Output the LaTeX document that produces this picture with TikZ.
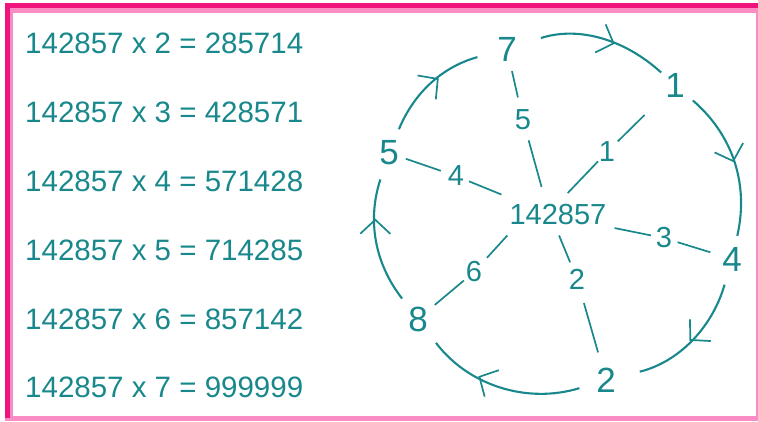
\documentclass[tikz,border=0pt]{standalone}
\usepackage{fontspec}
\setmainfont{Liberation Sans}
\usetikzlibrary{arrows.meta,decorations.markings}
\definecolor{teal1}{RGB}{25,136,140}
\definecolor{pinkD}{RGB}{240,20,125}
\definecolor{pinkL}{RGB}{248,140,195}
\tikzset{
 eqtext/.style={anchor=west,inner sep=0pt,text=teal1,font=\fontsize{29.5}{34}\selectfont},
 outer/.style={circle,inner sep=0pt,text=teal1,font=\fontsize{35}{40}\selectfont},
 lbl/.style={circle,inner sep=0pt,text=teal1,font=\fontsize{29}{34}\selectfont},
 hub/.style={rectangle,inner xsep=8pt,inner ysep=10pt,text=teal1,font=\fontsize{29}{34}\selectfont},
 spoke/.style={draw=teal1,line width=1.7pt},
 cyc/.style={draw=teal1,color=teal1,line width=2.1pt,postaction={decorate},
   decoration={markings,mark=at position #1 with {\arrow[line width=1.7pt]{Straight Barb[length=14pt,width=30pt]}}}},
}
\begin{document}
\begin{tikzpicture}[x=1pt,y=1pt]
\useasboundingbox (0,0) rectangle (758,-421);
% frame
\fill[pinkL] (5,-3) rectangle (758,-421);
\fill[pinkD] (5,-3) rectangle (758,-8);
\fill[pinkD] (5,-3) rectangle (10,-418);
\fill[white] (13,-13) rectangle (755.5,-415.5);
% equations
\node[eqtext] (e2) at (25,-43.7) {142857 x 2 = 285714};
\node[eqtext] (e3) at (25,-112.5) {142857 x 3 = 428571};
\node[eqtext] (e4) at (25,-181.7) {142857 x 4 = 571428};
\node[eqtext] (e5) at (25,-250) {142857 x 5 = 714285};
\node[eqtext] (e6) at (25,-319) {142857 x 6 = 857142};
\node[eqtext] (e7) at (25,-387) {142857 x 7 = 999999};
% hub and outer digits
\node[hub] (c) at (558,-215) {142857};
\node[outer] (n7) at (507,-49) {7};
\node[outer] (n1) at (675,-85) {1};
\node[outer] (n4) at (732,-259) {4};
\node[outer] (n2) at (606,-380) {2};
\node[outer] (n8) at (418,-319) {8};
\node[outer] (n5) at (389,-153) {5};
% spoke labels
\node[lbl] (l5) at (523,-120) {5};
\node[lbl] (l1) at (607,-152) {1};
\node[lbl] (l4) at (456,-176) {4};
\node[lbl] (l3) at (664,-238) {3};
\node[lbl] (l6) at (474,-272) {6};
\node[lbl] (l2) at (577,-279) {2};
% spokes
\draw[spoke,shorten <=8pt,shorten >=8pt] (c.125) -- (l5);
\draw[spoke,shorten <=10pt,shorten >=7pt] (l5) -- (n7);
\draw[spoke,shorten <=2pt] (c.68) -- (l1);
\draw[spoke,shorten <=2pt,shorten >=27pt] (l1) -- (n1);
\draw[spoke,shorten >=1pt] (c.north west) -- (l4);
\draw[spoke,shorten <=3pt,shorten >=2pt] (l4) -- (n5);
\draw[spoke] (c.-13) -- (l3);
\draw[spoke,shorten <=1pt,shorten >=7pt] (l3) -- (n4);
\draw[spoke,shorten >=6pt] (c.202) -- (l6);
\draw[spoke,shorten >=6pt] (l6) -- (n8);
\draw[spoke,shorten >=5pt] (c.-87) -- (l2);
\draw[spoke,shorten <=12pt,shorten >=13pt] (l2) -- (n2);
% cycle arcs
\draw[cyc=0.62,shorten <=20pt,shorten >=3pt] (n7) to[bend left=30] (n1);
\draw[cyc=0.5,shorten <=8pt,shorten >=8pt] (n1) to[bend left=31] (n4);
\draw[cyc=0.5,shorten <=11pt,shorten >=19pt] (n4) to[bend left=30] (n2);
\draw[cyc=0.63,shorten <=12pt,shorten >=14pt] (n2) to[bend left=35] (n8);
\draw[cyc=0.65,shorten <=10pt,shorten >=12pt] (n8) to[bend left=28] (n5);
\draw[cyc=0.56,shorten <=10pt,shorten >=15pt] (n5) to[bend left=26] (n7);
\end{tikzpicture}
\end{document}
